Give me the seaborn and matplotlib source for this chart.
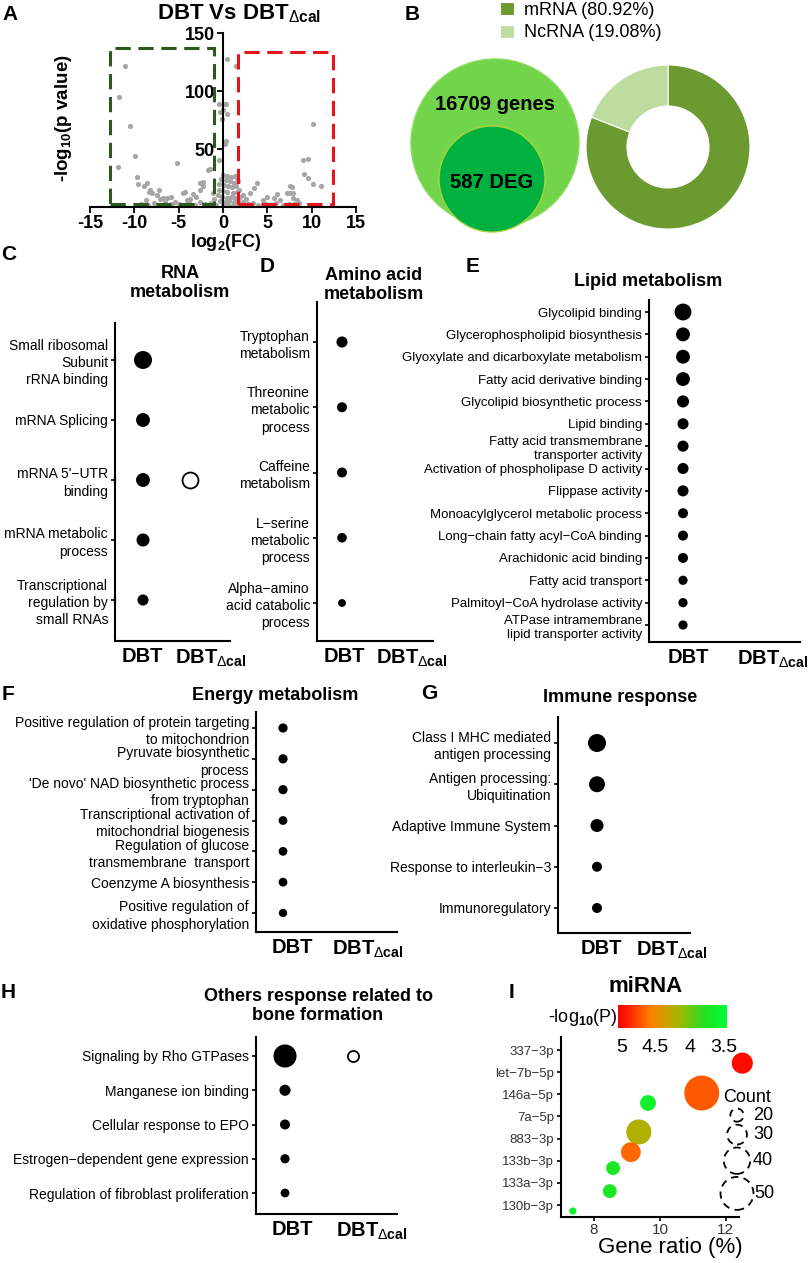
"""Transcriptome summary figure: volcano, DEG overview, enrichment dot plots and miRNA bubbles."""

import numpy as np
import pandas as pd
import matplotlib
matplotlib.use("Agg")
import matplotlib.pyplot as plt
import seaborn as sns
from matplotlib.cm import ScalarMappable
from matplotlib.colors import LinearSegmentedColormap, Normalize
from matplotlib.patches import Circle, Rectangle

W, H = 809, 1263
NA = np.nan

# ---------------- A. volcano ----------------
volcano_fc = [-11.1, -11.7, -10.5, -9.95, -11.8, -5.2, -1.5, -0.5, 0.5, 1.47,
              -0.45, 0.1, 0.4, -0.34, -0.1, 0.26, 10.1, 9.05, 9.6, 9.1,
              9.6, 10.2, 11.0, -9.73, -9.6, -8.9, -8.6, -8.4, -8.0, -7.5,
              -8.7, -7.1, -6.3, -5.4, -4.3, -4.5, -3.7, -3.0, -2.2, -2.6,
              -2.2, -1.7, -2.6, -4.1, 3.5, 2.2, 4.5, 5.7, 6.4, 7.6,
              7.6, 7.9, 1.8, 3.8, 6.05, 7.2, 7.85, 7.75, 0.3, 0.04, 0.3]
volcano_logp = [121.8, 95.1, 69.8, 44.2, 34.7, 38.2, 32.5, 40.5, 127.6, 121.8,
                88.5, 88.5, 80.2, 82.2, 75.6, 54.3, 71.3, 40.5, 41.1, 28.4,
                24.7, 19.6, 18.4, 25.6, 19.5, 18, 21, 13.2, 11.8, 10.3,
                6, 6.6, 7.5, 4.6, 13.2, 12.3, 6.6, 8.9, 21.8, 21.0,
                18.5, 31.9, 14.7, 6, 16.7, 10.3, 6, 7.5, 6, 18,
                11.8, 7.5, 14.7, 20.4, 10.9, 12.3, 12.3, 17.5, 89, 83.6, 56.5]
core_fc = [0.0, 0.4, 0.9, 1.3, 1.6, -0.2, 0.3, 0.8, 1.2, 1.7, -0.4, 0.1, 0.6, 1.0, 1.5,
           -0.5, 0.0, 0.5, 1.1, 1.6, -0.6, -0.1, 0.4, 0.9, 1.4, 1.9, -0.3, 0.2, 0.7, 1.2,
           1.7, 2.2, -0.8, 0.0, 0.6, 1.1, 1.6, 2.3]
core_logp = [28, 27, 26, 26.5, 25, 24, 23, 22, 21, 22, 20, 19, 18, 17, 18,
             15, 14, 13, 12, 13, 10, 9, 8, 9, 8, 9, 5, 4, 5, 4,
             5, 4, 2, 1.5, 2, 1.5, 2, 1.5]
base_fc = [-9.2, -8.5, -7.8, -7.0, -6.5, -5.8, -5.0, -4.4, -3.8, -3.2, -2.6, -2.0, -1.4,
           2.8, 3.4, 4.0, 4.8, 5.4, 6.0, 6.8, 7.4, 8.0, 8.6, -6.8, -5.9, -3.4, -1.1, -1.0,
           2.6, 3.0, 5.0, 8.3, -8.2, -7.2]
base_logp = [3, 2, 3.5, 2, 4, 2.5, 3, 2, 3.5, 2, 4, 2.5, 3.5,
             2.5, 3.5, 2, 3, 2, 3.5, 2, 3, 2.5, 3.5, 8, 9, 11, 12, 7,
             7, 12, 9, 6, 15, 14.5]
down_box = [-12.7, -1.0, 3, 137]   # fc from, fc to, logp from, logp to
up_box = [1.7, 12.4, 3, 134]
volcano_xticks = [-15, -10, -5, 0, 5, 10, 15]
volcano_yticks = [50, 100, 150]

# ---------------- B. overview ----------------
gene_labels = ["16709 genes", "587 DEG"]
rna_types = ["mRNA (80.92%)", "NcRNA (19.08%)"]
rna_share = [80.92, 19.08]

# ---------------- C-H. enrichment dot plots (gene counts) ----------------
rna_terms = ["Small ribosomal\nSubunit\nrRNA binding", "mRNA Splicing", "mRNA 5'−UTR\nbinding",
             "mRNA metabolic\nprocess", "Transcriptional\nregulation by\nsmall RNAs"]
rna_dbt = [42, 25, 25, 22, 16]
rna_cal = [NA, NA, 33, NA, NA]

amino_terms = ["Tryptophan\nmetabolism", "Threonine\nmetabolic\nprocess", "Caffeine\nmetabolism",
               "L−serine\nmetabolic\nprocess", "Alpha−amino\nacid catabolic\nprocess"]
amino_dbt = [16, 13, 13, 12, 8]
amino_cal = [NA] * 5

lipid_terms = ["Glycolipid binding", "Glycerophospholipid biosynthesis",
               "Glyoxylate and dicarboxylate metabolism", "Fatty acid derivative binding",
               "Glycolipid biosynthetic process", "Lipid binding",
               "Fatty acid transmembrane\ntransporter activity", "Activation of phospholipase D activity",
               "Flippase activity", "Monoacylglycerol metabolic process",
               "Long−chain fatty acyl−CoA binding", "Arachidonic acid binding", "Fatty acid transport",
               "Palmitoyl−CoA hydrolase activity", "ATPase intramembrane\nlipid transporter activity"]
lipid_dbt = [37, 25, 25, 25, 19, 16, 16, 16, 16, 13, 13, 13, 11, 11, 11]
lipid_cal = [NA] * 15

energy_terms = ["Positive regulation of protein targeting\nto mitochondrion",
                "Pyruvate biosynthetic\nprocess",
                "'De novo' NAD biosynthetic process\nfrom tryptophan",
                "Transcriptional activation of\nmitochondrial biogenesis",
                "Regulation of glucose\ntransmembrane  transport",
                "Coenzyme A biosynthesis",
                "Positive regulation of\noxidative phosphorylation"]
energy_dbt = [11, 11, 11, 10, 10, 10, 9]
energy_cal = [NA] * 7

immune_terms = ["Class I MHC mediated\nantigen processing", "Antigen processing:\nUbiquitination",
                "Adaptive Immune System", "Response to interleukin−3", "Immunoregulatory"]
immune_dbt = [42, 33, 22, 13, 13]
immune_cal = [NA] * 5

bone_terms = ["Signaling by Rho GTPases", "Manganese ion binding", "Cellular response to EPO",
              "Estrogen−dependent gene expression", "Regulation of fibroblast proliferation"]
bone_dbt = [69, 16, 13, 11, 10]
bone_cal = [16, NA, NA, NA, NA]

# ---------------- I. miRNA bubbles ----------------
mirna_labels = ["337−3p", "let−7b−5p", "146a−5p", "7a−5p", "883−3p", "133b−3p", "133a−3p", "130b−3p"]
mirna_ratio = [12.5, 11.27, 9.64, 9.36, 9.12, 8.58, 8.48, 7.36]
mirna_pos = [0.59, 1.94, 2.39, 3.70, 4.61, 5.33, 6.37, 7.27]
mirna_count = [32, 53, 24, 38, 30, 21, 21, 11]
mirna_logp = [5.0, 4.7, 3.6, 4.2, 4.65, 3.7, 3.7, 3.6]
legend_counts = [20, 30, 40, 50]
logp_ticks = [5, 4.5, 4, 3.5]

CAL = r"DBT$_{\Delta\mathbf{cal}}$"
DOT_SIZES = (0, 320)
DOT_NORM = (0, 80)

sns.set_theme(style="ticks", rc={
    "text.color": "black", "axes.labelcolor": "black", "axes.edgecolor": "black",
    "xtick.color": "black", "ytick.color": "black", "axes.unicode_minus": False,
})
plt.rcParams["font.family"] = ["Liberation Sans", "DejaVu Sans"]
plt.rcParams["mathtext.fontset"] = "custom"
plt.rcParams["mathtext.rm"] = "Liberation Sans"
plt.rcParams["mathtext.it"] = "Liberation Sans:italic"
plt.rcParams["mathtext.bf"] = "Liberation Sans:bold"

fig = plt.figure(figsize=(W / 100, H / 100), dpi=100)


def place(x0, y0, x1, y1):
    """Axes from pixel box (top-left origin)."""
    return fig.add_axes([x0 / W, 1 - y1 / H, (x1 - x0) / W, (y1 - y0) / H])


def ftext(x, y, s, **kw):
    kw.setdefault("ha", "center")
    kw.setdefault("va", "center")
    fig.text(x / W, 1 - y / H, s, **kw)


def count_area(c):
    return (0.475 * np.asarray(c, dtype=float)) ** 2


def dot_panel(box, rows, dot_x, cal_x, label_x, terms, dbt, cal, fontsize=10):
    x0, y0, x1, y1 = box
    n = len(terms)
    step = (rows[1] - rows[0]) / (n - 1)
    unit = cal_x - dot_x
    ax = place(x0, y0, x1, y1)
    df = pd.DataFrame({"row": np.arange(n), "DBT": dbt, "DBT_cal": cal})
    long = df.melt(id_vars="row", var_name="group", value_name="count").dropna()
    long["x"] = long["group"].map({"DBT": 0, "DBT_cal": 1})
    filled = long[long["group"] == "DBT"]
    hollow = long[long["group"] == "DBT_cal"]
    sns.scatterplot(data=filled, x="x", y="row", size="count", sizes=DOT_SIZES, size_norm=DOT_NORM,
                    color="black", linewidth=0, legend=False, ax=ax, clip_on=False)
    if len(hollow):
        sns.scatterplot(data=hollow, x="x", y="row", size="count", sizes=DOT_SIZES, size_norm=DOT_NORM,
                        color="black", facecolor="white", edgecolor="black", linewidth=1.3,
                        legend=False, ax=ax, clip_on=False)
    ax.set_xlim(-(dot_x - x0) / unit, (x1 - dot_x) / unit)
    ax.set_ylim((n - 1) + (y1 - rows[1]) / step, -(rows[0] - y0) / step)
    ax.set_yticks(np.arange(n), terms)
    ax.set_xticks([(lx - dot_x) / unit for lx in label_x], ["DBT", CAL])
    ax.set_xlabel("")
    ax.set_ylabel("")
    sns.despine(ax=ax)
    for s in ("left", "bottom"):
        ax.spines[s].set_linewidth(1.5)
    ax.tick_params(axis="y", left=True, length=3, width=1.2, pad=2, labelsize=fontsize)
    ax.tick_params(axis="x", bottom=True, length=0, pad=4.5, labelsize=14.5)
    for lab in ax.get_xticklabels():
        lab.set_fontweight("bold")
    for lab in ax.get_yticklabels():
        lab.set_linespacing(1.3)
    return ax


# ---------------- A ----------------
ax_a = place(90, 33, 356, 207)
sns.scatterplot(x=volcano_fc + core_fc + base_fc, y=volcano_logp + core_logp + base_logp,
                color="#a6a6a6", s=14, linewidth=0, ax=ax_a, clip_on=False)
for (f0, f1, p0, p1), col in ((down_box, "#2b5a1c"), (up_box, "#e3141b")):
    ax_a.add_patch(Rectangle((f0, p0), f1 - f0, p1 - p0, fill=False, edgecolor=col,
                             linewidth=2.2, linestyle=(0, (5, 2.5)), zorder=3))
ax_a.set_xlim(-15, 15)
ax_a.set_ylim(0, 150)
ax_a.set_xticks(volcano_xticks)
ax_a.set_yticks(volcano_yticks)
sns.despine(ax=ax_a)
ax_a.spines["left"].set_position(("data", 0))
for s in ("left", "bottom"):
    ax_a.spines[s].set_linewidth(1.5)
ax_a.tick_params(length=4, width=1.3, labelsize=13, pad=2)
for lab in ax_a.get_xticklabels() + ax_a.get_yticklabels():
    lab.set_fontweight("bold")
ftext(239, 14, r"DBT Vs DBT$_{\Delta\mathbf{cal}}$", fontsize=16, fontweight="bold")
ftext(226, 242, r"log$_{\mathbf{2}}$(FC)", fontsize=13, fontweight="bold")
ftext(63, 118, r"-log$_{\mathbf{10}}$(p value)", fontsize=13.5, fontweight="bold", rotation=90)

# ---------------- B ----------------
ax_v = place(405, 55, 585, 235)
ax_v.set_xlim(0, 180)
ax_v.set_ylim(0, 180)
ax_v.set_axis_off()
ax_v.add_patch(Circle((90, 92), 84, facecolor="#72d44b", edgecolor="#8bdc5e", lw=1))
ax_v.add_patch(Circle((87, 56), 53, facecolor="#00b140", edgecolor="#a6d43a", lw=1))
ax_v.text(90, 130, gene_labels[0], ha="center", va="center", fontsize=14.5, fontweight="bold")
ax_v.text(87, 53, gene_labels[1], ha="center", va="center", fontsize=14.5, fontweight="bold")

ax_d = place(586, 65, 750, 229)
wedges, _ = ax_d.pie(rna_share, colors=["#6b9a31", "#bfdca0"], startangle=90, counterclock=False,
                     wedgeprops=dict(width=0.5, edgecolor="white", linewidth=0.8))
ax_d.set_xlim(-1, 1)
ax_d.set_ylim(-1, 1)
ax_d.legend(wedges, rna_types, loc="upper left", bbox_to_anchor=(500 / W, 1 - 2 / H),
            bbox_transform=fig.transFigure, frameon=False, fontsize=13, handlelength=0.75,
            handleheight=0.75, handletextpad=0.6, labelspacing=0.3, borderpad=0, borderaxespad=0)

# ---------------- C-H ----------------
dot_panel((115, 323, 230, 641), (360, 600), 143, 190, (142, 211), rna_terms, rna_dbt, rna_cal)
dot_panel((317, 302, 433, 641), (342, 603), 342, 389, (344, 412), amino_terms, amino_dbt, amino_cal)
dot_panel((649, 300, 800, 642), (312, 625), 683, 750, (688, 773), lipid_terms, lipid_dbt, lipid_cal,
          fontsize=9.5)
dot_panel((256, 712, 397, 932), (728, 913), 283, 350, (292, 368), energy_terms, energy_dbt, energy_cal)
dot_panel((558, 717, 690, 933), (743, 908), 597, 664, (601, 672), immune_terms, immune_dbt, immune_cal)
dot_panel((256, 1037, 397, 1214), (1056, 1193), 285, 353, (292, 372), bone_terms, bone_dbt, bone_cal)

ftext(180, 283, "RNA\nmetabolism", fontsize=13, fontweight="bold", linespacing=1.15)
ftext(374, 285, "Amino acid\nmetabolism", fontsize=13, fontweight="bold", linespacing=1.15)
ftext(648, 282, "Lipid metabolism", fontsize=13, fontweight="bold")
ftext(275, 695, "Energy metabolism", fontsize=13, fontweight="bold")
ftext(620, 698, "Immune response", fontsize=13, fontweight="bold")
ftext(318, 1006, "Others response related to\nbone formation", fontsize=13, fontweight="bold",
      linespacing=1.15)

# ---------------- I ----------------
mir_cmap = LinearSegmentedColormap.from_list(
    "mir", [(0, "#00ff33"), (0.2, "#22e022"), (0.45, "#a8b400"), (0.7, "#ff8000"),
            (0.92, "#ff1a00"), (1, "#ff0000")])
mir_norm = Normalize(3.45, 5.05)
mir = pd.DataFrame({"label": mirna_labels, "ratio": mirna_ratio, "pos": mirna_pos,
                    "count": mirna_count, "logp": mirna_logp})
ax_i = place(561, 1037, 739, 1217)
sns.scatterplot(data=mir, x="ratio", y="pos", hue="logp", palette=mir_cmap, hue_norm=mir_norm,
                s=count_area(mir["count"]), linewidth=0, legend=False, ax=ax_i, clip_on=False)
ax_i.set_xlim(7.0, 12.4)
ax_i.set_ylim(7.54, -0.59)
ax_i.set_xticks([8, 10, 12])
ax_i.set_yticks(np.arange(len(mirna_labels)), mirna_labels)
ax_i.set_xlabel("")
ax_i.set_ylabel("")
sns.despine(ax=ax_i)
for s in ("left", "bottom"):
    ax_i.spines[s].set_linewidth(1.5)
ax_i.tick_params(axis="y", length=3, width=1.2, pad=2, labelsize=9.5, labelcolor="#333333")
ax_i.tick_params(axis="x", length=3, width=1.2, pad=1, labelsize=11, labelcolor="#333333")
ftext(670, 1248, "Gene ratio (%)", fontsize=16)

cax = place(618, 1005, 727, 1028)
cb = fig.colorbar(ScalarMappable(mir_norm, mir_cmap), cax=cax, orientation="horizontal")
cax.invert_xaxis()
cb.outline.set_visible(False)
cb.set_ticks(logp_ticks, labels=[f"{t:g}" for t in logp_ticks])
cax.tick_params(length=0, pad=8, labelsize=14)
ftext(583, 1018, r"-log$_{\mathbf{10}}$(P)", fontsize=13)

# size legend: dashed circles stacked downwards
ax_leg = place(690, 1080, 800, 1220)
ax_leg.set_xlim(690, 800)
ax_leg.set_ylim(1220, 1080)
ax_leg.set_axis_off()
diam = 0.66 * np.asarray(legend_counts, dtype=float)
centers = 1108.5 + np.cumsum(diam) - diam / 2 + 3 * np.arange(len(diam))
ax_leg.scatter(np.full(len(diam), 737), centers, s=count_area(legend_counts), facecolors="none",
               edgecolors="black", linewidths=1.3, linestyles=(0, (4, 3)), clip_on=False)
for c, y, d in zip(legend_counts, centers, diam):
    ax_leg.text(max(753, 737 + d / 2 + 1), y, str(c), ha="left", va="center", fontsize=13)
ftext(747, 1097, "Count", fontsize=13)
ftext(646, 986, "miRNA", fontsize=16, fontweight="bold")

# panel letters
for letter, x, y in (("A", 10, 14), ("B", 412, 14), ("C", 9, 254), ("D", 267, 266),
                     ("E", 473, 267), ("F", 8, 695), ("G", 429, 693), ("H", 8, 992), ("I", 512, 993)):
    ftext(x, y, letter, fontsize=15, fontweight="bold")

fig.savefig("out.png", dpi=100)
